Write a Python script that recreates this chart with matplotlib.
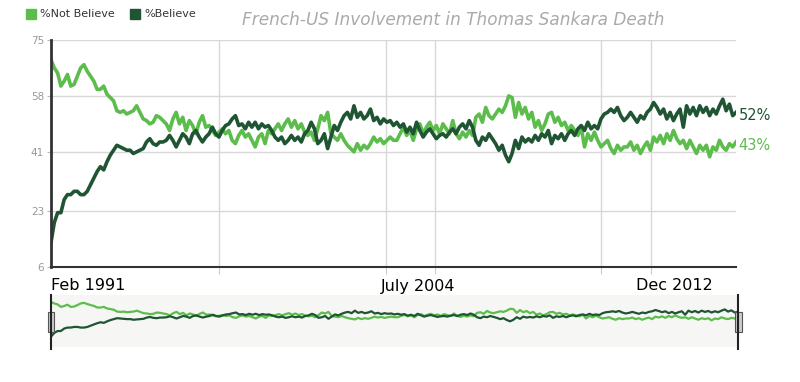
import numpy as np
import matplotlib.pyplot as plt
from matplotlib.patches import Rectangle

# values, evenly spaced samples left -> right
not_believe = [
    69, 66.5, 65, 61, 62.5, 64.5, 61, 61.5, 64, 66.5, 67.5, 65.5, 64, 62.5, 60, 60, 61, 58.5,
    57.5, 56.5, 53.5, 53, 53.5, 52.5, 53, 53.5, 55, 53, 51, 50.5, 49.5, 50, 52, 51.5, 50.5,
    49.5, 47.5, 51, 53, 49.5, 51.5, 47.5, 50.5, 49, 46.5, 50, 52, 48.5, 49, 47.5, 46, 47, 48,
    46.5, 47.5, 44.5, 43.5, 46, 47.5, 45.5, 46.5, 44.5, 42.5, 45.5, 46.5, 43.5, 47.5, 46.5, 48, 49.5,
    47.5, 49.5, 51, 48.5, 50.5, 48, 49.5, 47, 46, 47, 44.5, 48, 52, 50.5, 53, 46.5, 45.5, 44.5,
    46.5, 44.5, 43, 42, 41, 43.5, 41.5, 43, 42, 43.5, 45.5, 44, 45, 43.5, 44.5, 45.5, 44.5,
    44.5, 46.5, 48.5, 46, 47.5, 44.5, 48, 49.5, 46.5, 48.5, 50, 47.5, 49, 46.5, 49.5, 48, 46.5,
    50.5, 46.5, 45, 47, 45.5, 47.5, 46, 51.5, 52.5, 50, 54.5, 52, 51, 52.5, 54, 53, 55, 58,
    57.5, 51.5, 56, 52.5, 54.5, 51, 53, 48.5, 50.5, 47.5, 49.5, 52.5, 53, 50, 51.5, 49, 50, 47.5,
    49, 47.5, 46, 48.5, 42.5, 46.5, 44.5, 47, 44.5, 42.5, 43.5, 44.5, 42, 40.5, 43, 41.5, 42.5,
    42.5, 44, 41.5, 43, 40.5, 42.5, 44, 41.5, 45.5, 44, 46, 43.5, 46.5, 44.5, 47.5, 45, 43.5,
    44.5, 42, 44.5, 42.5, 40.5, 43, 41.5, 43, 39.5, 42.5, 41.5, 44.5, 42.5, 41.5, 43.5, 42.5, 44,
]
believe = [
    13.5, 19.5, 22.5, 22.5, 26.5, 28, 28, 29, 29, 28, 28, 29, 31, 33, 35, 36.5, 35.5, 38,
    40, 41.5, 43, 42.5, 42, 41.5, 41.5, 40.5, 41, 41.5, 42, 44, 45, 43.5, 43, 44, 44,
    44.5, 46, 44.5, 42.5, 44.5, 46.5, 45.5, 43.5, 46.5, 47.5, 45.5, 44, 45.5, 46.5, 48.5, 46.5, 45.5,
    47.5, 49, 49.5, 51, 52, 49, 49.5, 48, 50, 48.5, 50, 48, 49.5, 48.5, 49, 47.5, 45.5, 44.5,
    45.5, 43.5, 44.5, 46, 44.5, 45.5, 44, 46.5, 47.5, 50, 48, 43.5, 44.5, 46.5, 42, 45.5, 49, 47.5,
    50, 52, 53, 51, 55, 51.5, 53, 51, 52, 54, 50.5, 51.5, 49.5, 51, 50, 50.5, 49,
    50, 48.5, 49.5, 47, 48.5, 46.5, 50, 47.5, 45.5, 47, 48, 46.5, 45, 46, 46.5, 45.5, 47,
    48, 46.5, 48.5, 49.5, 48, 50.5, 48.5, 44.5, 43, 45.5, 44.5, 46.5, 45, 43.5, 41.5, 43, 40, 38,
    40.5, 44.5, 42, 45.5, 44, 45, 44, 46, 44.5, 46.5, 45.5, 47.5, 43.5, 46, 45, 46.5, 44.5, 46.5,
    47.5, 46, 48, 49, 47.5, 50, 48, 49, 48, 51, 52.5, 53, 54, 53, 54.5, 52, 50.5,
    51.5, 53, 51.5, 50, 52, 51, 53, 54, 56, 54.5, 52.5, 54, 51, 53, 50.5, 52.5, 54,
    48.5, 55, 52.5, 54.5, 52, 55, 53, 54.5, 52, 54, 52.5, 55, 57, 53.5, 55.5, 52, 53,
]
end_labels = ['52%', '43%']
end_values = [52, 43]
y_ticks = [6, 23, 41, 58, 75]
date_labels = ['Feb 1991', 'July 2004', 'Dec 2012']
grid_frac = [0.2457, 0.4886, 0.5606, 0.8034, 0.8755]

light = '#5cbd4c'
dark = '#1f5533'

W, H = 800, 382
fig = plt.figure(figsize=(W / 100, H / 100), dpi=100)

def box(x0, y0, x1, y1):
    return [x0 / W, 1 - y1 / H, (x1 - x0) / W, (y1 - y0) / H]

x = np.arange(len(believe))
n = len(x) - 1

ax = fig.add_axes(box(51, 40, 736, 267))
ax.plot(x, not_believe, color=light, lw=2.6)
ax.plot(x, believe, color=dark, lw=2.6)
ax.set_xlim(0, n)
ax.set_ylim(6, 75)
ax.set_yticks(y_ticks)
ax.set_xticks([f * n for f in grid_frac])
ax.set_xticklabels([])
ax.grid(True, color='#d8d8d8', lw=1)
ax.set_axisbelow(True)
for s in ['top', 'right']:
    ax.spines[s].set_visible(False)
ax.spines['left'].set_color('#333333')
ax.spines['left'].set_linewidth(2)
ax.spines['bottom'].set_color('#333333')
ax.spines['bottom'].set_linewidth(1.5)
ax.tick_params(axis='y', colors='#bbbbbb', labelcolor='#999999', labelsize=7.5, length=3, pad=2)
ax.tick_params(axis='x', colors='#cccccc', length=5)

for lab, v, c in zip(end_labels, end_values, [dark, light]):
    ax.annotate(lab, xy=(n, v), xytext=(2, 0), textcoords='offset points',
                color=c, fontsize=10.5, va='center', ha='left', annotation_clip=False)

# legend
for sx, lab, c in [(26, '%Not Believe', light), (130, '%Believe', dark)]:
    fig.patches.append(Rectangle((sx / W, 1 - 19 / H), 10 / W, 10 / H, transform=fig.transFigure,
                                 color=c))
    fig.text((sx + 14) / W, 1 - 14 / H, lab, fontsize=8, color='#333333', va='center')

fig.text(453 / W, 1 - 20 / H, 'French-US Involvement in Thomas Sankara Death',
         fontsize=12.2, style='italic', color='#aaaaaa', ha='center', va='center')

# date labels under the plot
fig.text(51 / W, 1 - 285 / H, date_labels[0], fontsize=11.5, ha='left', va='center')
fig.text(418 / W, 1 - 287 / H, date_labels[1], fontsize=11.5, ha='center', va='center')
fig.text(713 / W, 1 - 285 / H, date_labels[2], fontsize=11.5, ha='right', va='center')

# navigator
nav = fig.add_axes(box(51, 295, 738, 347))
nav.set_facecolor('#f6f6f4')
nav.plot(x, not_believe, color=light, lw=1.6)
nav.plot(x, believe, color=dark, lw=1.6)
nav.set_xlim(0, n)
nav.set_ylim(-3, 80)
nav.set_xticks([])
nav.set_yticks([])
for s in nav.spines.values():
    s.set_visible(False)
for hx in [51, 738]:
    fig.add_artist(plt.Line2D([hx / W, hx / W], [1 - 349 / H, 1 - 295 / H], color='#222222', lw=1.5))
    fig.patches.append(Rectangle(((hx - 3.5) / W, 1 - 332 / H), 7 / W, 20 / H,
                                 transform=fig.transFigure, facecolor='#cccccc',
                                 edgecolor='#555555', lw=0.8))

fig.savefig('out.png', dpi=100)
